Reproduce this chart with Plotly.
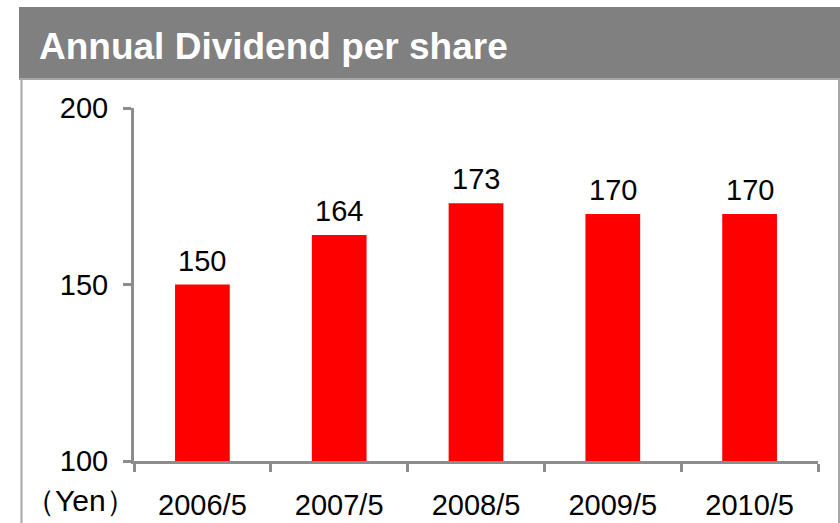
import plotly.graph_objects as go

periods = ["2006/5", "2007/5", "2008/5", "2009/5", "2010/5"]
dividend = [150, 164, 173, 170, 170]
y_ticks = [100, 150, 200]

W, H = 840, 523
L, R, T, B = 134, 22, 108, 62
FONT = "Arial, Liberation Sans, sans-serif"
AXIS = "#8c8c8c"


def px_x(px):
    return (px - L) / (W - L - R)


def px_y(py):
    return (H - B - py) / (H - T - B)


fig = go.Figure()
fig.add_trace(go.Bar(x=periods, y=dividend, width=0.4, marker_color="#ff0000",
                     marker_line_width=0, showlegend=False, hoverinfo="x+y"))

for p, v in zip(periods, dividend):
    fig.add_annotation(x=p, y=v, text=str(v), showarrow=False, yanchor="bottom",
                       yshift=6, font=dict(family=FONT, size=29, color="black"))

# header band and frame
fig.add_shape(type="rect", xref="paper", yref="paper", x0=px_x(19), x1=px_x(845),
              y0=px_y(79), y1=px_y(7), fillcolor="#808080", line_width=0, layer="below")
fig.add_shape(type="line", xref="paper", yref="paper", x0=px_x(19), x1=px_x(845),
              y0=px_y(79), y1=px_y(79), line=dict(color="#a6a6a6", width=2))
fig.add_shape(type="line", xref="paper", yref="paper", x0=px_x(21.5), x1=px_x(21.5),
              y0=px_y(79), y1=px_y(530), line=dict(color="#a6a6a6", width=2))
fig.add_shape(type="line", xref="paper", yref="paper", x0=px_x(839), x1=px_x(839),
              y0=px_y(79), y1=px_y(530), line=dict(color="#a6a6a6", width=2))

fig.add_annotation(xref="paper", yref="paper", x=px_x(37), y=px_y(46), xanchor="left",
                   yanchor="middle", showarrow=False, text="<b>Annual Dividend per share</b>",
                   font=dict(family=FONT, size=37, color="white"))
fig.add_annotation(xref="paper", yref="paper", x=px_x(80), y=px_y(500), xanchor="center",
                   yanchor="middle", showarrow=False, text="（Yen）",
                   font=dict(family=FONT, size=30, color="black"))

fig.update_xaxes(type="category", range=[-0.5, 4.5], showline=True, linecolor=AXIS, linewidth=3,
                 ticks="outside", tickson="boundaries", ticklen=8, tickwidth=3, tickcolor=AXIS,
                 showgrid=False, tickfont=dict(family=FONT, size=29, color="black"),
                 ticklabelstandoff=16)
fig.update_yaxes(range=[100, 200], tickvals=y_ticks, showline=True, linecolor=AXIS, linewidth=3,
                 ticks="outside", ticklen=8, tickwidth=3, tickcolor=AXIS, showgrid=False,
                 zeroline=False, tickfont=dict(family=FONT, size=29, color="black"),
                 ticklabelstandoff=9)

fig.update_layout(width=W, height=H, margin=dict(l=L, r=R, t=T, b=B, autoexpand=False),
                  paper_bgcolor="white", plot_bgcolor="white", bargap=0.6)

# drop the browser's default page margin so the 840x523 figure fills the window
fig.write_html("out.html", config={"displayModeBar": False},
               post_script="document.body.style.margin='0';"
                           "document.body.style.overflow='hidden';")
